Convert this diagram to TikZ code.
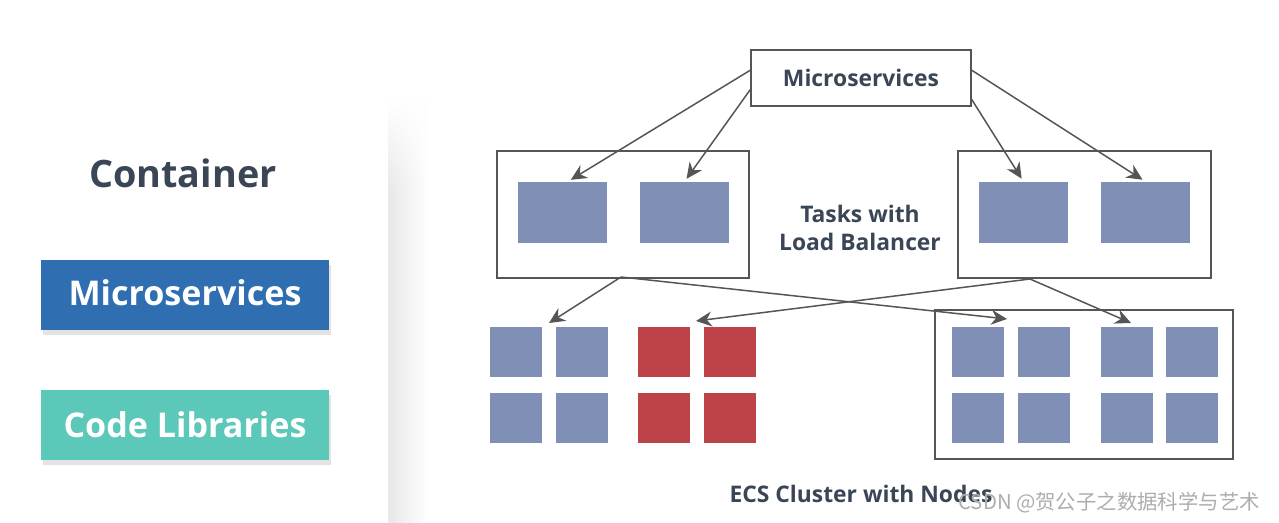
\documentclass[tikz,border=0pt]{standalone}
\usepackage{fontspec}
\setmainfont{Open Sans}
\newfontfamily\cjk{Noto Sans CJK SC}
\usetikzlibrary{arrows.meta,shadows,fadings}

\definecolor{inkdark}{HTML}{3A4656}
\definecolor{msblue}{HTML}{2F6EB0}
\definecolor{libteal}{HTML}{5CC8B9}
\definecolor{taskblue}{HTML}{7F8FB6}
\definecolor{taskred}{HTML}{BE4349}
\definecolor{linegray}{HTML}{555555}

\tikzset{
  label box/.style={fill=#1, text=white, inner sep=0pt,
    minimum width=288*0.02cm, minimum height=70*0.02cm,
    font=\bfseries\fontsize{19.4}{23}\selectfont,
    drop shadow={shadow xshift=1pt, shadow yshift=-3pt, opacity=0.22}},
  frame/.style={draw=linegray, line width=0.85pt, inner sep=0pt},
  task/.style={fill=#1, inner sep=0pt,
    minimum width=89*0.02cm, minimum height=61*0.02cm},
  unit/.style={fill=#1, inner sep=0pt,
    minimum width=52*0.02cm, minimum height=50*0.02cm},
  caption/.style={text=inkdark, font=\bfseries\fontsize{13}{15.8}\selectfont, align=center},
  link/.style={draw=linegray, line width=0.85pt, ->,
    >={Stealth[length=9pt,width=8.5pt]}}
}

\begin{document}
\begin{tikzpicture}[x=0.02cm,y=-0.02cm]
  \useasboundingbox (0,0) rectangle (1279,523);
  \fill[white] (0,0) rectangle (1279,523);
  % soft edge of the panel
  \fill[black!9, path fading=east] (388,100) rectangle (428,523);
  \fill[white, path fading=south] (386,100) rectangle (430,190);

  % left column
  \node[text=inkdark, font=\bfseries\fontsize{21.5}{26}\selectfont] (cont) at (183,173) {Container};
  \node[label box=msblue, text depth=0pt] (msb) at (185,295) {\raisebox{3pt}{Microservices}};
  \node[label box=libteal] (lib) at (185,425) {Code Libraries};

  % top
  \node[frame, fill=white, minimum width=220*0.02cm, minimum height=56*0.02cm,
        text=inkdark, font=\bfseries\fontsize{13}{15.8}\selectfont] (ms) at (861,78) {Microservices};

  % tasks with load balancer
  \node[frame, minimum width=252*0.02cm, minimum height=127*0.02cm] (lt) at (623,214.5) {};
  \node[frame, minimum width=253*0.02cm, minimum height=127*0.02cm] (rt) at (1084.5,214.5) {};
  \node[task=taskblue] (t1) at (562.5,212.5) {};
  \node[task=taskblue] (t2) at (684.5,212.5) {};
  \node[task=taskblue] (t3) at (1023.5,212.5) {};
  \node[task=taskblue] (t4) at (1145.5,212.5) {};
  \node[caption] (tlb) at (860,228) {Tasks with\\Load Balancer};

  \draw[link, shorten >=2pt] (ms.176) -- ([xshift=3pt]t1.north);
  \draw[link, shorten >=2pt] (ms.186) -- (t2.north);
  \draw[link, shorten >=2pt] (ms.4) -- (t4.north);
  \draw[link, shorten >=2pt] (ms.349) -- (t3.north);

  % cluster nodes
  \node[frame, minimum width=298*0.02cm, minimum height=149*0.02cm] (cl) at (1084,384.5) {};
  \foreach \x/\c/\n in {516/taskblue/a, 582/taskblue/b, 664/taskred/c, 730/taskred/d,
                        978/taskblue/e, 1044/taskblue/f, 1127/taskblue/g, 1192/taskblue/h} {
    \node[unit=\c] (\n1) at (\x,352) {};
    \node[unit=\c] (\n2) at (\x,418.5) {};
  }
  \coordinate (lb) at (621,277);
  \coordinate (rb) at (1030,279);
  \coordinate (ga) at (549,323);
  \coordinate (gc) at (696,321);
  \coordinate (ge) at (1007,319);
  \coordinate (gg) at (1131,323);
  \draw[link] (lb) -- (ga);
  \draw[link] (lb) -- (ge);
  \draw[link] (rb) -- (gc);
  \draw[link] (rb) -- (gg);

  \node[caption] (ecs) at (861,494) {ECS Cluster with Nodes};
  \node[text=black!32, font=\cjk\fontsize{11.6}{14}\selectfont, anchor=east] (mark) at (1266,503) {CSDN @贺公子之数据科学与艺术};
\end{tikzpicture}
\end{document}
